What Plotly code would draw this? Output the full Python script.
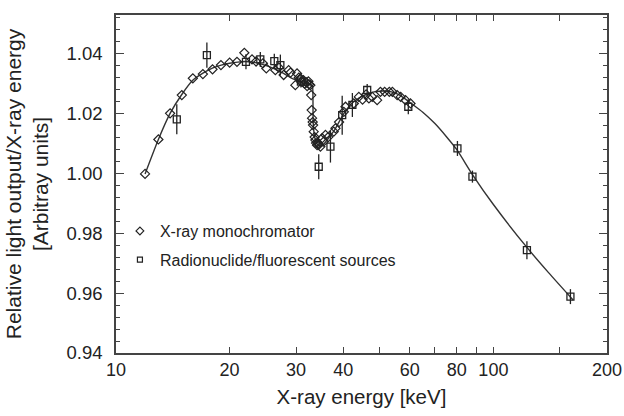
import plotly.graph_objects as go

# Monochromator data (diamonds)
mono_energy = [11.94, 12.95, 13.91, 14.94, 15.98, 16.99, 18.02, 18.97, 20.0, 20.92,
               21.88, 22.93, 23.5, 24.5, 25.02, 26.44, 27.0, 27.81, 28.67, 29.0,
               29.87, 30.18, 30.5, 30.8, 31.0, 31.37, 31.6, 31.95, 32.1, 32.34,
               32.5, 32.74, 32.9, 33.0, 33.08, 33.2, 33.28, 33.41, 33.6, 33.75,
               33.9, 34.11, 34.3, 34.5, 34.81, 35.17, 35.5, 35.89, 36.5, 37.76,
               38.15, 39.0, 40.14, 40.56, 42.67, 44.0, 45.0, 46.0, 46.8, 47.75,
               49.2, 50.2, 51.5, 53.0, 54.0, 55.6, 56.8, 58.5, 60.3]
mono_value = [0.9997, 1.0112, 1.0199, 1.0260, 1.0316, 1.0330, 1.0346, 1.0360, 1.0368, 1.0371,
              1.0401, 1.0379, 1.0372, 1.0366, 1.0349, 1.0343, 1.0352, 1.0327, 1.0343, 1.0335,
              1.0293, 1.0332, 1.0318, 1.0316, 1.0305, 1.0310, 1.0298, 1.0302, 1.0290, 1.0306,
              1.0296, 1.0293, 1.0260, 1.0210, 1.0183, 1.0170, 1.0160, 1.0138, 1.0120, 1.0110,
              1.0100, 1.0093, 1.0100, 1.0095, 1.0088, 1.0116, 1.0105, 1.0127, 1.0120, 1.0138,
              1.0149, 1.0170, 1.0204, 1.0221, 1.0232, 1.0254, 1.0245, 1.0262, 1.0249, 1.0254,
              1.0243, 1.0271, 1.0271, 1.0271, 1.0271, 1.0260, 1.0254, 1.0243, 1.0232]

# Radionuclide / fluorescent sources (squares with error bars)
src_energy = [14.49, 17.41, 22.10, 24.12, 26.27, 27.26, 30.9, 34.45, 37.0, 39.75,
              42.3, 46.3, 59.5, 80.3, 88.0, 122.7, 160.0]
src_value = [1.0179, 1.0393, 1.0371, 1.0379, 1.0373, 1.0360, 1.0305, 1.0021, 1.0088, 1.0193,
             1.0227, 1.0277, 1.0221, 1.0082, 0.9988, 0.9743, 0.9588]
src_error = [0.0050, 0.0042, 0.0025, 0.0025, 0.0025, 0.0035, 0.0020, 0.0042, 0.0053, 0.0065,
             0.0040, 0.0020, 0.0025, 0.0025, 0.0020, 0.0030, 0.0025]

# Fitted curve
fit_energy = [11.94, 12.95, 13.91, 14.94, 16.0, 17.0, 18.0, 19.0, 20.0, 21.0, 22.0, 23.0,
              24.0, 25.0, 26.0, 27.0, 28.0, 29.0, 30.0, 31.0, 32.0, 33.0, 33.17, 33.3,
              33.6, 34.2, 35.0, 36.0, 37.0, 38.0, 40.0, 42.0, 44.0, 46.0, 48.0, 50.0,
              52.0, 54.0, 56.0, 58.0, 60.0, 65.0, 70.0, 75.0, 80.0, 88.0, 100.0, 122.7,
              140.0, 162.6]
fit_value = [0.9997, 1.0112, 1.0199, 1.0262, 1.0310, 1.0333, 1.0350, 1.0360, 1.0366, 1.0370,
             1.0372, 1.0370, 1.0365, 1.0358, 1.0350, 1.0340, 1.0330, 1.0318, 1.0310, 1.0303,
             1.0298, 1.0294, 1.0290, 1.0170, 1.0120, 1.0095, 1.0090, 1.0105, 1.0125, 1.0145,
             1.0195, 1.0230, 1.0250, 1.0262, 1.0270, 1.0273, 1.0273, 1.0270, 1.0262, 1.0250,
             1.0236, 1.0203, 1.0165, 1.0122, 1.0078, 0.9995, 0.9895, 0.9752, 0.9668, 0.9577]

x_tickvals = [10, 20, 30, 40, 60, 80, 100, 200]
x_ticktext = ["10", "20", "30", "40", "60", "80", "100", "200"]
x_minor = [50, 70, 90, 150]
y_tickvals = [0.94, 0.96, 0.98, 1.00, 1.02, 1.04]
y_ticktext = ["0.94", "0.96", "0.98", "1.00", "1.02", "1.04"]

ink = "#222222"
axc = "#444444"
font = "Liberation Sans, Arial, Helvetica, sans-serif"

fig = go.Figure()
fig.add_trace(go.Scatter(x=fit_energy, y=fit_value, mode="lines",
                         line=dict(color="#333333", width=1.4, shape="spline", smoothing=0.6),
                         showlegend=False, hoverinfo="skip"))
fig.add_trace(go.Scatter(x=src_energy, y=src_value, mode="markers",
                         marker=dict(symbol="square-open", size=7, color=ink, line=dict(width=1.3)),
                         error_y=dict(type="data", array=src_error, color=ink, thickness=1.3, width=0),
                         showlegend=False))
fig.add_trace(go.Scatter(x=mono_energy, y=mono_value, mode="markers",
                         marker=dict(symbol="diamond-open", size=7, color=ink, line=dict(width=1.2)),
                         showlegend=False))
# legend entries
fig.add_trace(go.Scatter(x=[None], y=[None], mode="markers", name="X-ray monochromator",
                         legendgroup="a",
                         marker=dict(symbol="diamond-open", size=6, color=ink, line=dict(width=1.2))))
fig.add_trace(go.Scatter(x=[None], y=[None], mode="markers", name="Radionuclide/fluorescent sources",
                         legendgroup="b",
                         marker=dict(symbol="square-open", size=5, color=ink, line=dict(width=1.2))))

fig.update_layout(
    width=624, height=416,
    margin=dict(l=116, r=17, t=15, b=63),
    paper_bgcolor="white", plot_bgcolor="white",
    font=dict(family=font, size=16, color=ink),
    legend=dict(x=0.008, y=0.318, xanchor="left", yanchor="middle",
                bgcolor="rgba(0,0,0,0)", font=dict(size=16, color=ink),
                tracegroupgap=5, itemwidth=30),
)
fig.update_xaxes(
    type="log", range=[1, 2.30103], automargin=False,
    tickmode="array", tickvals=x_tickvals, ticktext=x_ticktext,
    ticks="inside", ticklen=6, tickwidth=1.2, tickcolor=axc,
    minor=dict(tickvals=x_minor, ticks="inside", ticklen=6, tickwidth=1.2, tickcolor=axc),
    showline=True, linecolor=axc, linewidth=1.5, mirror="ticks",
    showgrid=False, zeroline=False,
    tickfont=dict(size=18, color=ink),
    title=dict(text="X-ray energy [keV]", font=dict(size=20.5, color=ink), standoff=10),
)
fig.update_yaxes(
    range=[0.94, 1.0527], automargin=False,
    tickmode="array", tickvals=y_tickvals, ticktext=y_ticktext,
    ticks="inside", ticklen=8, tickwidth=1.2, tickcolor=axc,
    minor=dict(dtick=0.004, tick0=0.94, ticks="inside", ticklen=4, tickwidth=1.1, tickcolor=axc),
    showline=True, linecolor=axc, linewidth=1.5, mirror="ticks",
    showgrid=False, zeroline=False,
    tickfont=dict(size=18.5, color=ink), ticklabelstandoff=8,
    title=dict(text="Relative light output/X-ray energy<br>[Arbitray units]",
               font=dict(size=21, color=ink), standoff=12),
)

fig.write_html("out.html", config={"displayModeBar": False},
               post_script="document.body.style.margin='0px';document.body.style.overflow='hidden';")
